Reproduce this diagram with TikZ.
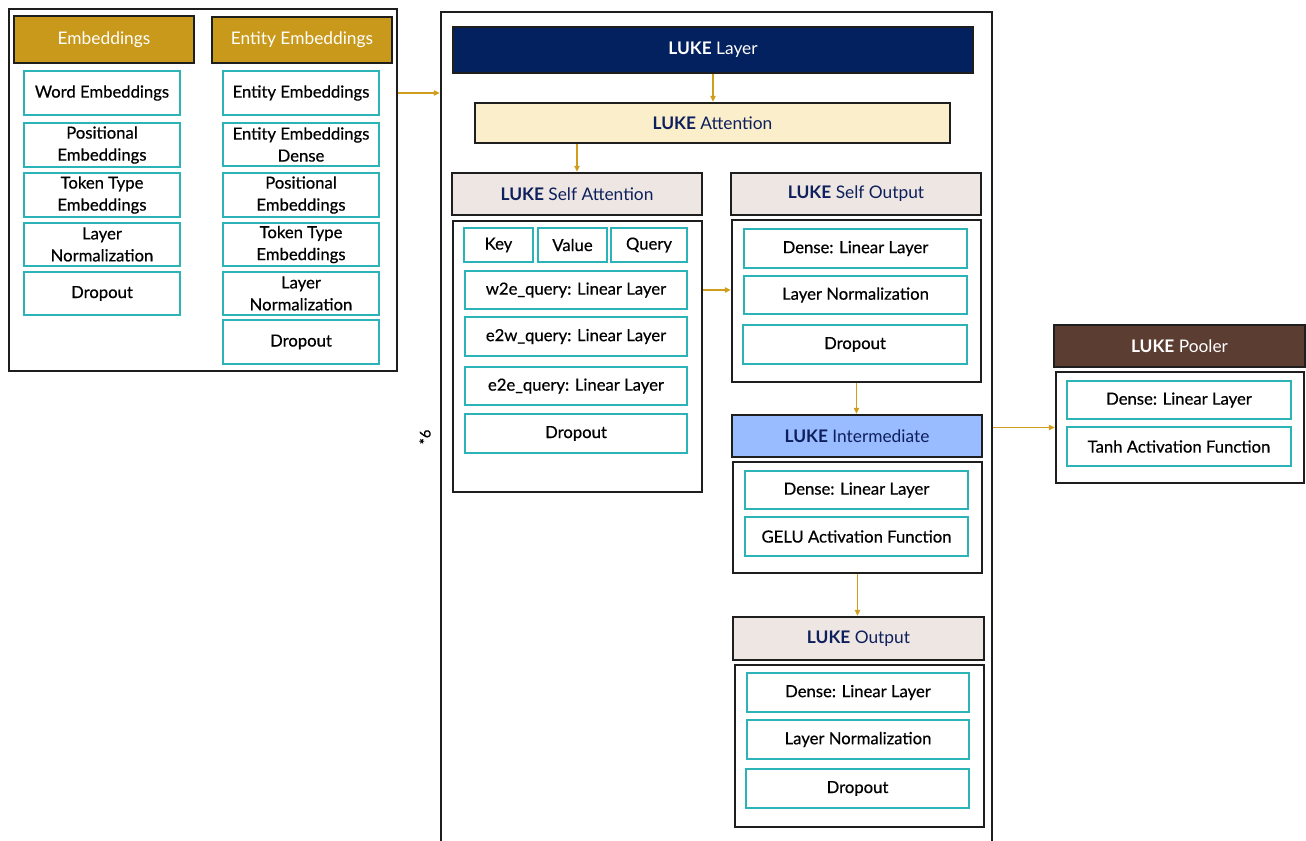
\documentclass[tikz,border=0pt]{standalone}
\usepackage{fontspec}
\setmainfont{Lato}
\newfontfamily\itemfont{Lato}[BoldFont=Lato, BoldFeatures={FakeBold=0.5}]
\usetikzlibrary{fit,arrows.meta,calc}

\definecolor{gold}{HTML}{C9991B}
\definecolor{navy}{HTML}{03205F}
\definecolor{cream}{HTML}{FAEECB}
\definecolor{pale}{HTML}{EEE6E2}
\definecolor{skyblue}{HTML}{99BBFF}
\definecolor{brown}{HTML}{5B3E31}
\definecolor{teal}{HTML}{2BB3B8}
\definecolor{inkblue}{HTML}{0D1F5C}
\definecolor{frame}{HTML}{1E1E1E}
\definecolor{arrowgold}{HTML}{D09D1C}

\tikzset{
  box/.style={inner sep=0pt},
  container/.style={box, draw=frame, line width=1.7pt, fill=white},
  item/.style={box, draw=teal, line width=1.5pt, fill=white},
  darkhead/.style={box, draw=frame, line width=1.7pt},
  lighthead/.style={box, draw=frame, line width=1.7pt},
  itemtext/.style={align=center, inner sep=0pt, text=black,
    font=\itemfont\bfseries\fontsize{12.5}{16.5}\selectfont},
  darktext/.style={align=center, inner sep=0pt, text=white,
    font=\fontsize{13}{15}\selectfont},
  lighttext/.style={align=center, inner sep=0pt, text=inkblue,
    font=\fontsize{13}{15}\selectfont},
  flow/.style={draw=arrowgold, line width=1.3pt, -{Triangle[length=4.5pt,width=4pt]}},
}
% box from its corners, with its text centred inside
\newcommand{\bx}[8]{%
  \node[#1, fit={(#3,#4) (#5,#6)}] (#2) {};
  \node[#7] (#2-t) at (#2.center) {#8};}

\begin{document}
\begin{tikzpicture}[x=0.75pt,y=-0.75pt]
\useasboundingbox (0,0) rectangle (1306,841);
\clip (0,0) rectangle (1306,841);

% ---- embeddings block ----
\node[container, fit={(9,9) (397,371)}] (emb) {};
\bx{darkhead,fill=gold}{embH}{14}{16}{194}{63}{darktext}{Embeddings}
\bx{darkhead,fill=gold}{entH}{212}{17}{392}{63}{darktext}{Entity Embeddings}
\bx{item}{wEmb}{24}{71}{180}{115}{itemtext}{Word Embeddings}
\bx{item}{pEmb}{24}{123}{180}{167}{itemtext}{Positional\\Embeddings}
\bx{item}{tEmb}{24}{173}{180}{217}{itemtext}{Token Type\\Embeddings}
\bx{item}{lnEmb}{24}{223}{180}{266}{itemtext}{Layer\\Normalization}
\bx{item}{dEmb}{24}{272}{180}{315}{itemtext}{Dropout}
\bx{item}{eEnt}{223}{71}{379}{115}{itemtext}{Entity Embeddings}
\bx{item}{edEnt}{223}{123}{379}{166}{itemtext}{Entity Embeddings\\Dense}
\bx{item}{pEnt}{223}{173}{379}{217}{itemtext}{Positional\\Embeddings}
\bx{item}{tEnt}{223}{223}{379}{266}{itemtext}{Token Type\\Embeddings}
\bx{item}{lnEnt}{223}{272}{379}{315}{itemtext}{Layer\\Normalization}
\bx{item}{dEnt}{223}{320}{379}{364}{itemtext}{Dropout}

% ---- repeated LUKE layer ----
\node[container, fill=none, fit={(441,12) (992,870)}] (layer) {};
\node[rotate=90, font=\itemfont\bfseries\fontsize{11}{13}\selectfont] (times) at (425,437) {*6};
\bx{darkhead,fill=navy}{layerH}{453}{27}{973}{73}{darktext}{\textbf{LUKE} Layer}
\bx{lighthead,fill=cream}{attn}{475}{103}{950}{143}{lighttext}{\textbf{LUKE} Attention}

% self attention
\bx{lighthead,fill=pale}{saH}{452}{173}{702}{215}{lighttext}{\textbf{LUKE} Self Attention}
\node[container, fit={(453,221) (702,492)}] (saC) {};
\bx{item}{key}{464}{228}{533}{262}{itemtext}{Key}
\bx{item}{value}{538}{228}{607}{262}{itemtext}{Value}
\bx{item}{query}{611}{228}{687}{262}{itemtext}{Query}
\bx{item}{w2e}{465}{271}{687}{309}{itemtext}{w2e\_query: Linear Layer}
\bx{item}{e2w}{465}{317}{687}{356}{itemtext}{e2w\_query: Linear Layer}
\bx{item}{e2e}{465}{367}{687}{405}{itemtext}{e2e\_query: Linear Layer}
\bx{item}{saDrop}{465}{414}{687}{453}{itemtext}{Dropout}

% self output
\bx{lighthead,fill=pale}{soH}{731}{173}{981}{215}{lighttext}{\textbf{LUKE} Self Output}
\node[container, fit={(732,220) (981,382)}] (soC) {};
\bx{item}{soDense}{744}{229}{967}{268}{itemtext}{Dense: Linear Layer}
\bx{item}{soLN}{744}{276}{967}{314}{itemtext}{Layer Normalization}
\bx{item}{soDrop}{743}{325}{967}{364}{itemtext}{Dropout}

% intermediate
\bx{lighthead,fill=skyblue}{intH}{732}{415}{982}{457}{lighttext}{\textbf{LUKE} Intermediate}
\node[container, fit={(733,462) (982,573)}] (intC) {};
\bx{item}{intDense}{745}{471}{968}{509}{itemtext}{Dense: Linear Layer}
\bx{item}{gelu}{745}{517}{968}{556}{itemtext}{GELU Activation Function}

% output
\bx{lighthead,fill=pale}{outH}{733}{617}{984}{660}{lighttext}{\textbf{LUKE} Output}
\node[container, fit={(735,665) (984,827)}] (outC) {};
\bx{item}{outDense}{747}{673}{969}{712}{itemtext}{Dense: Linear Layer}
\bx{item}{outLN}{747}{720}{969}{759}{itemtext}{Layer Normalization}
\bx{item}{outDrop}{746}{769}{969}{808}{itemtext}{Dropout}

% ---- pooler ----
\bx{darkhead,fill=brown}{poolH}{1054}{325}{1305}{367}{darktext}{\textbf{LUKE} Pooler}
\node[container, fit={(1056,372) (1304,483)}] (poolC) {};
\bx{item}{poolDense}{1067}{381}{1291}{419}{itemtext}{Dense: Linear Layer}
\bx{item}{tanh}{1067}{427}{1291}{466}{itemtext}{Tanh Activation Function}

% ---- connectors ----
\draw[flow] (emb.east |- wEmb.center) -- (layer.west |- wEmb.center);
\draw[flow] (layerH.south) -- (layerH.south |- attn.north);
\draw[flow] (saH.north |- attn.south) -- (saH.north);
\draw[flow] (saC.east |- w2e.center) -- (soC.west |- w2e.center);
\draw[flow] (soC.south) -- (soC.south |- intH.north);
\draw[flow] (intC.south) -- (intC.south |- outH.north);
\draw[flow] (layer.east |- poolC.center) -- (poolC.west);
\end{tikzpicture}
\end{document}
